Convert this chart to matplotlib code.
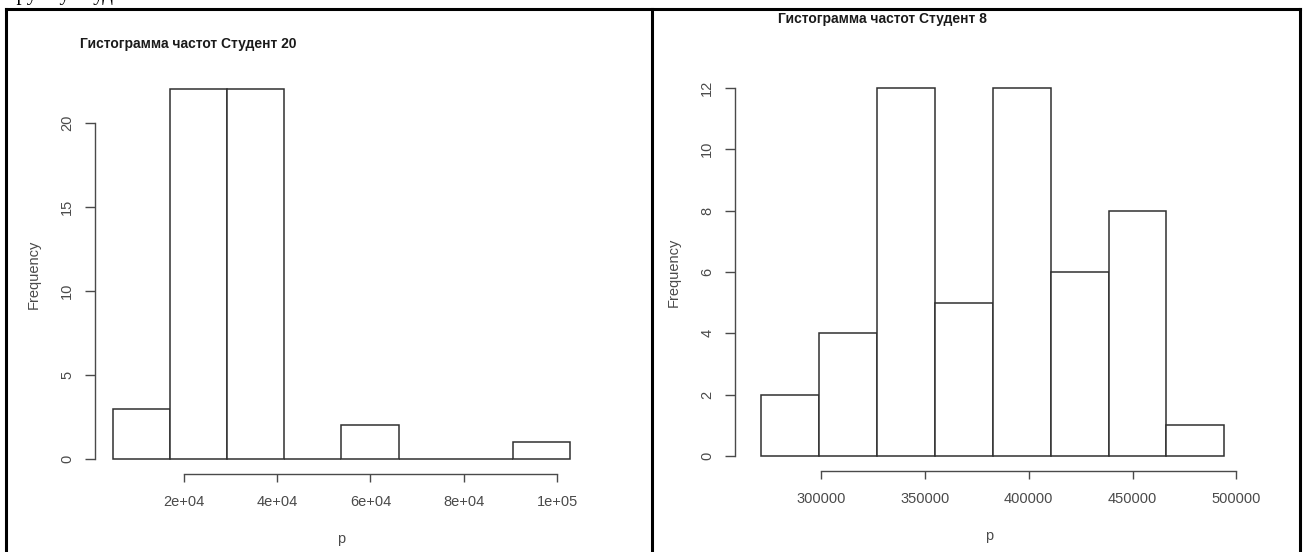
import numpy as np
import matplotlib.pyplot as plt
from matplotlib.lines import Line2D

W, H = 1304, 552

# student 20: equal-width breaks between min and max, counts per bin
edges_20 = np.linspace(4900, 102700, 9)
counts_20 = [3, 22, 22, 0, 2, 0, 0, 1]
xticks_20 = [20000, 40000, 60000, 80000, 100000]
xlabels_20 = ["2e+04", "4e+04", "6e+04", "8e+04", "1e+05"]
yticks_20 = [0, 5, 10, 15, 20]

# student 8
edges_8 = np.linspace(271126, 494220, 9)
counts_8 = [2, 4, 12, 5, 12, 6, 8, 1]
xticks_8 = [300000, 350000, 400000, 450000, 500000]
xlabels_8 = ["300000", "350000", "400000", "450000", "500000"]
yticks_8 = [0, 2, 4, 6, 8, 10, 12]

title_20 = "Гистограмма частот Студент 20"
title_8 = "Гистограмма частот Студент 8"

plt.rcParams['font.family'] = ['Liberation Sans', 'DejaVu Sans']
fig = plt.figure(figsize=(W / 100, H / 100), dpi=100)

def px_rect(x0, x1, ytop, ybot):
    return [x0 / W, 1 - ybot / H, (x1 - x0) / W, (ybot - ytop) / H]

def fx(x):
    return x / W

def fy(y):
    return 1 - y / H

grey = '#4a4a4a'

def r_hist(rect, edges, counts, xlim, ylim, xticks, xlabels, yticks):
    ax = fig.add_axes(rect)
    ax.bar(edges[:-1], counts, width=np.diff(edges), align='edge',
           facecolor='white', edgecolor='#303030', linewidth=1.1)
    ax.set_xlim(*xlim)
    ax.set_ylim(*ylim)
    for s in ['top', 'right']:
        ax.spines[s].set_visible(False)
    ax.spines['left'].set_bounds(yticks[0], yticks[-1])
    ax.spines['bottom'].set_bounds(xticks[0], xticks[-1])
    for s in ['left', 'bottom']:
        ax.spines[s].set_color(grey)
        ax.spines[s].set_linewidth(1.0)
    ax.set_xticks(xticks)
    ax.set_xticklabels(xlabels)
    ax.set_yticks(yticks)
    ax.set_yticklabels([str(v) for v in yticks], rotation=90, va='center')
    ax.tick_params(axis='x', length=6, width=1.0, color=grey, labelcolor=grey,
                   labelsize=10.5, pad=9)
    ax.tick_params(axis='y', length=7, width=1.0, color=grey, labelcolor=grey,
                   labelsize=10.5, pad=8)
    ax.set_xlabel("p", color=grey, fontsize=10.5, labelpad=17)
    ax.set_ylabel("Frequency", color=grey, fontsize=10.5, labelpad=14)
    ax.patch.set_alpha(0)
    return ax

r_hist(px_rect(95, 588, 74.6, 473.8), edges_20, counts_20,
       (988, 106612), (-0.88, 22.88), xticks_20, xlabels_20, yticks_20)
r_hist(px_rect(735, 1243, 73.2, 470.7), edges_8, counts_8,
       (258758, 503144), (-0.48, 12.48), xticks_8, xlabels_8, yticks_8)

fig.text(fx(80), fy(44), title_20, fontsize=10, fontweight='bold',
         color='#1a1a1a', ha='left', va='center')
fig.text(fx(778), fy(19), title_8, fontsize=10, fontweight='bold',
         color='#1a1a1a', ha='left', va='center')

# table borders of the document page (the table runs on below the picture)
lw = 2.2
for xs, ys in [((6, 1300), (9, 9)),
               ((6, 6), (9, 552)), ((652, 652), (9, 552)),
               ((1300, 1300), (9, 552))]:
    fig.add_artist(Line2D([fx(x) for x in xs], [fy(y) for y in ys],
                          color='black', linewidth=lw))

# the lower edge of a line of document text, cut by the top of the picture
fig.text(fx(8), fy(0), "группу студентов", family='Liberation Serif',
         fontsize=15, color='black', ha='left', va='baseline')

fig.savefig("out.png", dpi=100, facecolor='white')
